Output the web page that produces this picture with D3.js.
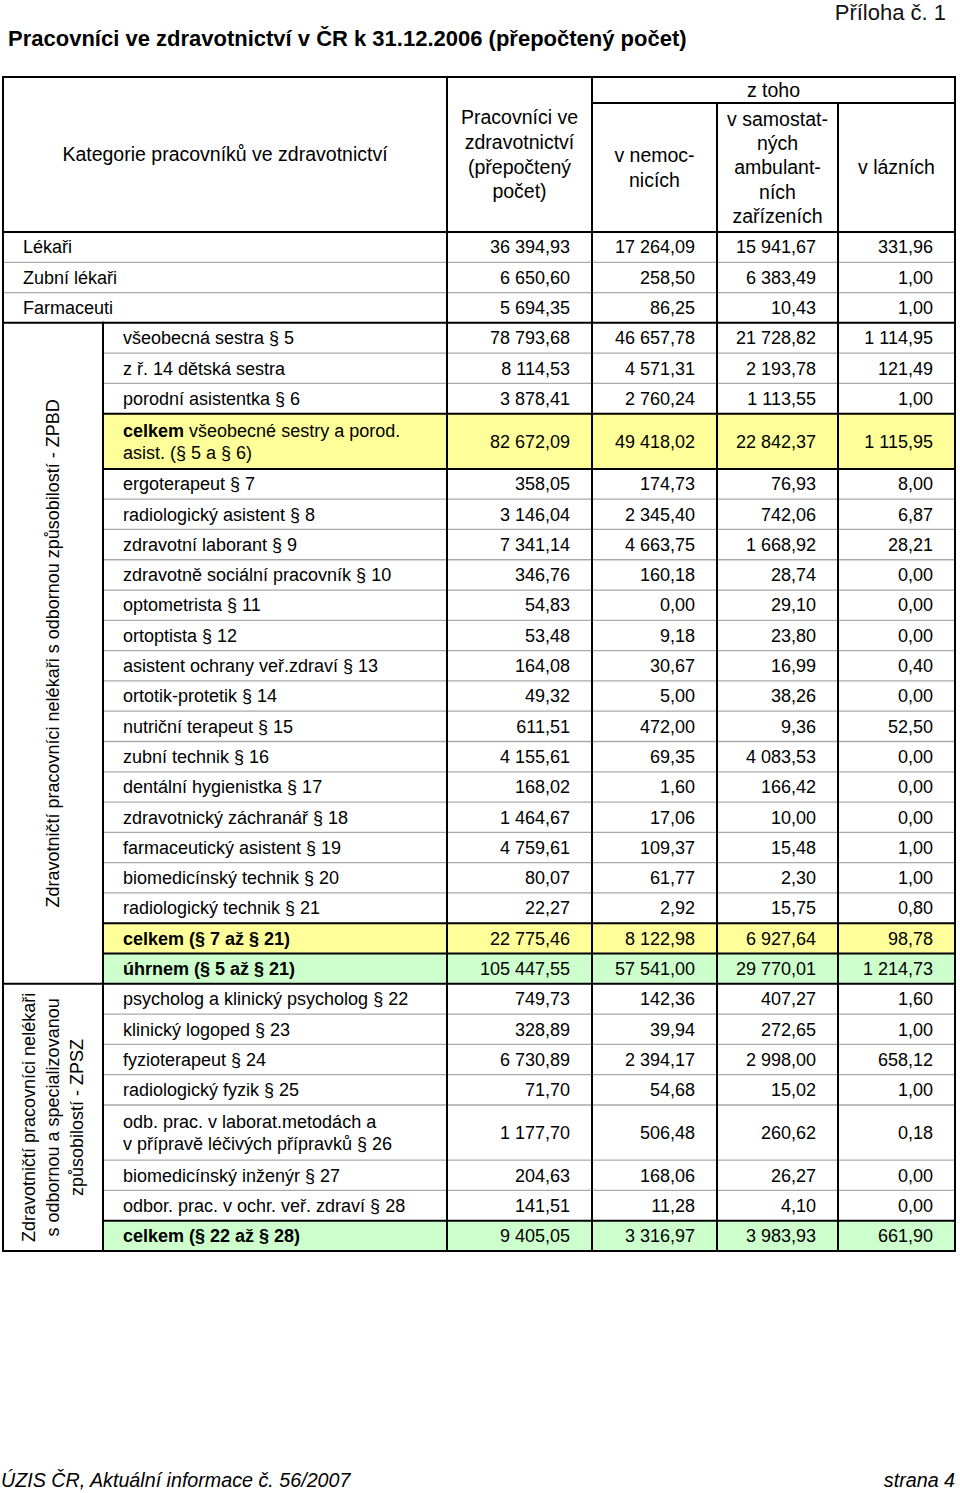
<!DOCTYPE html>
<html><head><meta charset="utf-8">
<script src="https://cdn.jsdelivr.net/npm/d3@7"></script>
<style>body{margin:0;background:#fff} svg{display:block}</style>
</head><body>
<script>
// ---------- DATA ----------
const title = "Pracovníci ve zdravotnictví v ČR k 31.12.2006 (přepočtený počet)";
const annex = "Příloha č. 1";
const footerLeft = "ÚZIS ČR, Aktuální informace č. 56/2007";
const footerRight = "strana 4";
const headerCategory = ["Kategorie pracovníků ve zdravotnictví"];
const headerTotal = ["Pracovníci ve", "zdravotnictví", "(přepočtený", "počet)"];
const headerOfWhich = ["z toho"];
const headerHosp = ["v nemoc-", "nicích"];
const headerAmb = ["v samostat-", "ných", "ambulant-", "ních", "zařízeních"];
const headerSpa = ["v lázních"];
const groupZPBD = ["Zdravotničtí pracovníci nelékaři s odbornou způsobilostí - ZPBD"];
const groupZPSZ = ["Zdravotničtí pracovníci nelékaři", "s odbornou a specializovanou", "způsobilostí - ZPSZ"];

const categories = [
  "Lékaři", "Zubní lékaři", "Farmaceuti",
  "všeobecná sestra § 5", "z ř. 14 dětská sestra", "porodní asistentka § 6",
  "**celkem** všeobecné sestry a porod.\nasist. (§ 5 a § 6)",
  "ergoterapeut § 7", "radiologický asistent § 8", "zdravotní laborant § 9",
  "zdravotně sociální pracovník § 10", "optometrista § 11", "ortoptista § 12",
  "asistent ochrany veř.zdraví § 13", "ortotik-protetik § 14", "nutriční terapeut § 15",
  "zubní technik § 16", "dentální hygienistka § 17", "zdravotnický záchranář § 18",
  "farmaceutický asistent § 19", "biomedicínský technik § 20", "radiologický technik § 21",
  "**celkem (§ 7 až § 21)**", "**úhrnem (§ 5 až § 21)**",
  "psycholog a klinický psycholog § 22", "klinický logoped § 23", "fyzioterapeut § 24",
  "radiologický fyzik § 25",
  "odb. prac. v laborat.metodách a\nv přípravě léčivých přípravků § 26",
  "biomedicínský inženýr § 27", "odbor. prac. v ochr. veř. zdraví § 28",
  "**celkem (§ 22 až § 28)**"
];
const rowGroup = [
  "", "", "",
  "ZPBD", "ZPBD", "ZPBD", "ZPBD", "ZPBD", "ZPBD", "ZPBD", "ZPBD", "ZPBD", "ZPBD", "ZPBD",
  "ZPBD", "ZPBD", "ZPBD", "ZPBD", "ZPBD", "ZPBD", "ZPBD", "ZPBD", "ZPBD", "ZPBD",
  "ZPSZ", "ZPSZ", "ZPSZ", "ZPSZ", "ZPSZ", "ZPSZ", "ZPSZ", "ZPSZ"
];
const rowHighlight = [
  "", "", "", "", "", "", "yellow", "", "", "", "", "", "", "", "", "", "", "", "", "", "", "",
  "yellow", "green", "", "", "", "", "", "", "", "green"
];
const total = [36394.93, 6650.60, 5694.35, 78793.68, 8114.53, 3878.41, 82672.09,
  358.05, 3146.04, 7341.14, 346.76, 54.83, 53.48, 164.08, 49.32, 611.51, 4155.61, 168.02,
  1464.67, 4759.61, 80.07, 22.27, 22775.46, 105447.55,
  749.73, 328.89, 6730.89, 71.70, 1177.70, 204.63, 141.51, 9405.05];
const hospitals = [17264.09, 258.50, 86.25, 46657.78, 4571.31, 2760.24, 49418.02,
  174.73, 2345.40, 4663.75, 160.18, 0.00, 9.18, 30.67, 5.00, 472.00, 69.35, 1.60,
  17.06, 109.37, 61.77, 2.92, 8122.98, 57541.00,
  142.36, 39.94, 2394.17, 54.68, 506.48, 168.06, 11.28, 3316.97];
const ambulatory = [15941.67, 6383.49, 10.43, 21728.82, 2193.78, 1113.55, 22842.37,
  76.93, 742.06, 1668.92, 28.74, 29.10, 23.80, 16.99, 38.26, 9.36, 4083.53, 166.42,
  10.00, 15.48, 2.30, 15.75, 6927.64, 29770.01,
  407.27, 272.65, 2998.00, 15.02, 260.62, 26.27, 4.10, 3983.93];
const spas = [331.96, 1.00, 1.00, 1114.95, 121.49, 1.00, 1115.95,
  8.00, 6.87, 28.21, 0.00, 0.00, 0.00, 0.40, 0.00, 52.50, 0.00, 0.00,
  0.00, 1.00, 1.00, 0.80, 98.78, 1214.73,
  1.60, 1.00, 658.12, 1.00, 0.18, 0.00, 0.00, 661.90];

// ---------- LAYOUT ----------
const W = 960, H = 1493;
const FONT = "'Liberation Sans', Arial, Helvetica, sans-serif";
const fill = {yellow: "#ffff99", green: "#ccffcc"};
const xL = 3, xG = 103, xC1 = 447, xC2 = 592, xC3 = 717, xC4 = 838, xR = 955;
const yTop = 77, ySub = 103, yBody = 232, yBottom = 1251;
const colRight = [xC2, xC3, xC4, xR];
const series = [total, hospitals, ambulatory, spas];

const fmt = d3.formatLocale({decimal: ",", thousands: "\u00a0", grouping: [3], currency: ["", ""]}).format(",.2f");

const rows = categories.map((c, i) => ({
  i, lines: c.split("\n"), group: rowGroup[i], hl: rowHighlight[i]
}));
rows.forEach(r => r.units = r.lines.length > 1 ? 1.82 : 1);
let acc = 0;
rows.forEach(r => { r.u0 = acc; acc += r.units; r.u1 = acc; });
const y = d3.scaleLinear().domain([0, acc]).range([yBody, yBottom]);

const svg = d3.select("body").append("svg").attr("width", W).attr("height", H)
  .style("font-family", FONT);

// title
svg.append("text").attr("x", 8).attr("y", 46).attr("font-size", 22).attr("font-weight", "bold")
  .attr("fill", "#000").text(title);
svg.append("text").attr("x", 946).attr("y", 20).attr("font-size", 22).attr("text-anchor", "end")
  .attr("fill", "#111").text(annex);

// highlight fills
svg.append("g").selectAll("rect").data(rows.filter(r => r.hl)).join("rect")
  .attr("x", xG).attr("width", xR - xG)
  .attr("y", r => y(r.u0)).attr("height", r => y(r.u1) - y(r.u0))
  .attr("fill", r => fill[r.hl]);

// horizontal row separators
const seps = [];
rows.forEach((r, k) => {
  if (k === 0) return;
  const p = rows[k - 1];
  const groupChange = p.group !== r.group;
  const thick = groupChange || p.hl || r.hl;
  const x0 = (groupChange || r.group === "") ? xL : xG;
  seps.push({yy: y(r.u0), thick, x0});
});
svg.append("g").selectAll("line").data(seps.filter(s => !s.thick)).join("line")
  .attr("x1", s => s.x0).attr("x2", xR).attr("y1", s => s.yy).attr("y2", s => s.yy)
  .attr("stroke", "#aaaaaa").attr("stroke-width", 1.3);

const black = svg.append("g").attr("stroke", "#000").attr("stroke-width", 2).attr("stroke-linecap", "square");
const hLines = seps.filter(s => s.thick).map(s => [s.x0, xR, s.yy]);
hLines.push([xL, xR, yTop], [xC2, xR, ySub], [xL, xR, yBody], [xL, xR, yBottom]);
black.selectAll(".h").data(hLines).join("line").attr("class", "h")
  .attr("x1", d => d[0]).attr("x2", d => d[1]).attr("y1", d => d[2]).attr("y2", d => d[2]);
const vLines = [[xL, yTop, yBottom], [xG, y(rows[3].u0), yBottom], [xC1, yTop, yBottom],
  [xC2, yTop, yBottom], [xC3, ySub, yBottom], [xC4, ySub, yBottom], [xR, yTop, yBottom]];
black.selectAll(".v").data(vLines).join("line").attr("class", "v")
  .attr("x1", d => d[0]).attr("x2", d => d[0]).attr("y1", d => d[1]).attr("y2", d => d[2]);

// header texts
function multiline(lines, cx, cy, size, lh) {
  const n = lines.length;
  const t = svg.append("text").attr("font-size", size).attr("text-anchor", "middle").attr("fill", "#000");
  lines.forEach((l, k) => {
    t.append("tspan").attr("x", cx).attr("y", cy + (k - (n - 1) / 2) * lh + size * 0.35).text(l);
  });
}
const HS = 19.5;
multiline(headerCategory, (xL + xC1) / 2, (yTop + yBody) / 2, HS, 24.6);
multiline(headerTotal, (xC1 + xC2) / 2, (yTop + yBody) / 2, HS, 24.6);
multiline(headerOfWhich, (xC2 + xR) / 2, (yTop + ySub) / 2, HS, 24.6);
multiline(headerHosp, (xC2 + xC3) / 2, (ySub + yBody) / 2, HS, 24.6);
multiline(headerAmb, (xC3 + xC4) / 2, (ySub + yBody) / 2, HS, 24.3);
multiline(headerSpa, (xC4 + xR) / 2, (ySub + yBody) / 2, HS, 24.6);

// row labels
const BS = 18;
const lab = svg.append("g").attr("font-size", BS).attr("fill", "#000");
rows.forEach(r => {
  const cy = (y(r.u0) + y(r.u1)) / 2;
  const n = r.lines.length;
  const t = lab.append("text").attr("x", r.group === "" ? 23 : 123);
  r.lines.forEach((line, k) => {
    const yy = cy + (k - (n - 1) / 2) * 22 + BS * 0.35;
    line.split("**").forEach((seg, s) => {
      if (!seg) return;
      const ts = t.append("tspan").attr("font-weight", s % 2 ? "bold" : null).text(seg);
      if (s === 0 || (s === 1 && line.startsWith("**"))) ts.attr("x", r.group === "" ? 23 : 123).attr("y", yy);
    });
  });
});

// values
const vals = svg.append("g").attr("font-size", BS).attr("fill", "#000").attr("text-anchor", "end");
series.forEach((s, c) => {
  vals.selectAll(null).data(s).join("text")
    .attr("x", colRight[c] - 22)
    .attr("y", (d, i) => (y(rows[i].u0) + y(rows[i].u1)) / 2 + BS * 0.35)
    .text(d => fmt(d));
});

// rotated group labels
function groupLabel(lines, name) {
  const idx = rows.filter(r => r.group === name);
  const cy = (y(idx[0].u0) + y(idx[idx.length - 1].u1)) / 2;
  const cx = (xL + xG) / 2;
  const n = lines.length;
  const g = svg.append("g").attr("transform", `translate(${cx},${cy}) rotate(-90)`);
  const t = g.append("text").attr("font-size", BS).attr("text-anchor", "middle").attr("fill", "#000");
  lines.forEach((l, k) => {
    t.append("tspan").attr("x", 0).attr("y", (k - (n - 1) / 2) * 24 + BS * 0.35).text(l);
  });
}
groupLabel(groupZPBD, "ZPBD");
groupLabel(groupZPSZ, "ZPSZ");

// footer
const NARROW = "'Liberation Sans Narrow', 'Arial Narrow', " + FONT;
svg.append("text").attr("x", 1).attr("y", 1487).attr("font-size", 19.7).attr("font-style", "italic")
  .style("font-family", NARROW).attr("fill", "#000").text(footerLeft);
svg.append("text").attr("x", 955).attr("y", 1487).attr("font-size", 19.7).attr("font-style", "italic")
  .attr("text-anchor", "end").style("font-family", NARROW).attr("fill", "#000").text(footerRight);
</script>
</body></html>
